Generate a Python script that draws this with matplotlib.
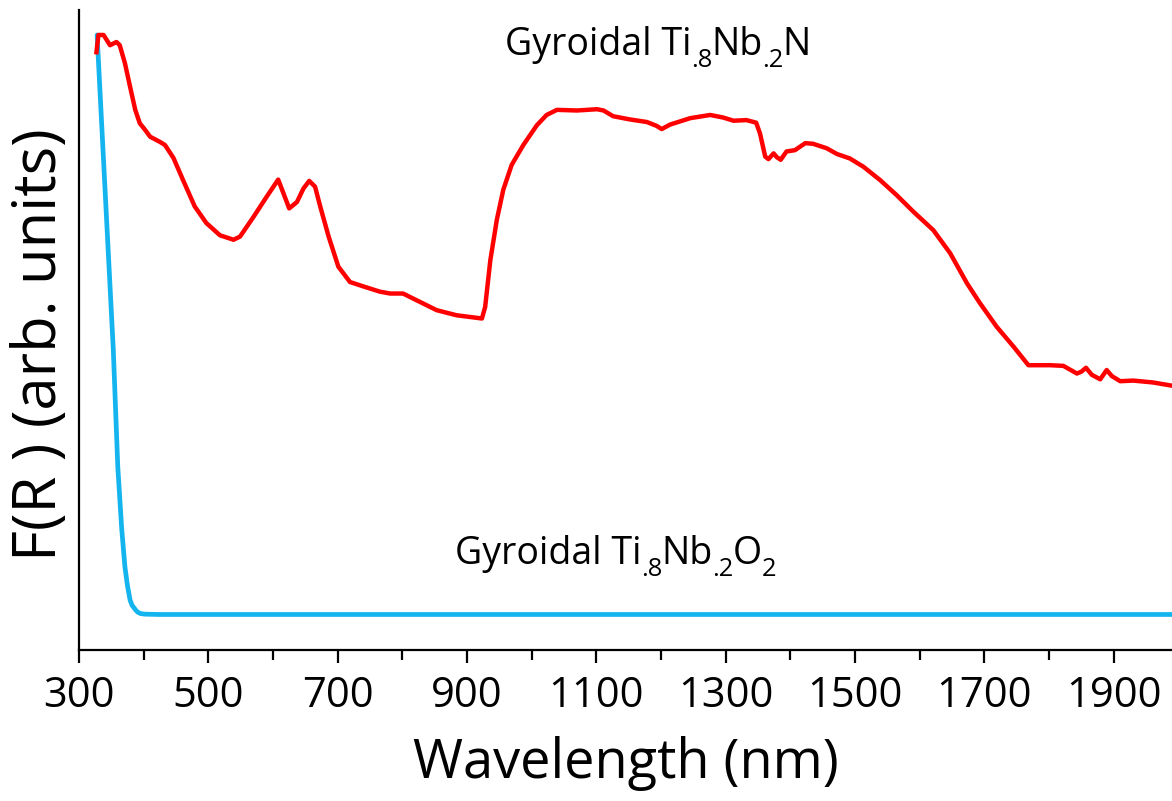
import numpy as np
import matplotlib
matplotlib.use("Agg")
import matplotlib.pyplot as plt
from matplotlib.ticker import FixedLocator, NullLocator
from matplotlib.transforms import offset_copy

matplotlib.rcParams.update({
    "font.family": ["Open Sans", "DejaVu Sans"],
})

# gyroidal Ti.8Nb.2N (red), wavelength in nm and F(R) in arb. units
nitride_wl = [327, 330, 338, 348, 358, 363, 371, 379, 387, 394, 402, 410, 425, 433,
              446, 461, 479, 497, 518, 539, 549, 570, 590, 608, 616, 625, 637, 647,
              656, 665, 673, 686, 701, 719, 740, 765, 781, 801, 827, 853, 884, 923,
              928, 936, 946, 956, 969, 987, 1008, 1023, 1039, 1070, 1101, 1111, 1126,
              1152, 1178, 1193, 1201, 1214, 1245, 1276, 1296, 1312, 1332, 1347, 1353,
              1361, 1366, 1374, 1379, 1385, 1394, 1407, 1423, 1435, 1456, 1472, 1492,
              1513, 1539, 1564, 1590, 1621, 1647, 1673, 1693, 1719, 1745, 1768, 1801,
              1822, 1843, 1850, 1857, 1866, 1879, 1889, 1897, 1910, 1930, 1961, 1990]
nitride_fr = [93.4, 96.1, 96.1, 94.5, 95.0, 94.5, 91.7, 88.0, 84.4, 82.3, 81.3, 80.2,
              79.4, 78.9, 76.9, 73.4, 69.3, 66.7, 64.8, 64.1, 64.6, 67.7, 70.8, 73.5,
              71.4, 69.0, 70.0, 72.1, 73.3, 72.4, 69.3, 64.6, 59.9, 57.5, 56.8, 56.0,
              55.7, 55.7, 54.4, 53.1, 52.3, 51.8, 53.6, 60.9, 67.2, 71.9, 75.8, 78.9,
              82.0, 83.6, 84.4, 84.3, 84.5, 84.3, 83.4, 82.9, 82.5, 81.9, 81.4, 82.1,
              83.1, 83.6, 83.2, 82.7, 82.8, 82.4, 80.7, 77.1, 76.7, 77.6, 77.0, 76.6,
              77.9, 78.1, 79.2, 79.1, 78.4, 77.5, 76.8, 75.5, 73.4, 71.1, 68.5, 65.6,
              62.0, 57.3, 54.2, 50.5, 47.4, 44.5, 44.5, 44.4, 43.2, 43.5, 44.1, 43.0,
              42.3, 43.75, 42.8, 42.0, 42.1, 41.8, 41.3]

# gyroidal Ti.8Nb.2O2 (blue)
oxide_wl = [328, 340, 353, 360, 366, 371, 375, 379, 382, 385, 388, 391, 395, 402, 425, 1990]
oxide_fr = [96.1, 72.5, 47.0, 28.6, 19.0, 13.0, 10.0, 7.8, 7.0, 6.6, 6.2, 5.9, 5.7, 5.6, 5.55, 5.55]

major_ticks = [300, 500, 700, 900, 1100, 1300, 1500, 1700, 1900]
minor_ticks = [400, 600, 800, 1000, 1200, 1400, 1600, 1800]

nitride_label = [("Gyroidal Ti", False), (".8", True), ("Nb", False), (".2", True), ("N", False)]
oxide_label = [("Gyroidal Ti", False), (".8", True), ("Nb", False), (".2", True),
               ("O", False), ("2", True)]

fig = plt.figure(figsize=(11.72, 8.01), dpi=100)
ax = fig.add_axes([0.0674, 0.1885, 0.9326, 0.799])

ax.plot(oxide_wl, oxide_fr, color="#14b4ee", lw=3.4, solid_capstyle="round", zorder=2)
ax.plot(nitride_wl, nitride_fr, color="#ff0000", lw=3.2, solid_joinstyle="round", zorder=3)

ax.set_xlim(300, 1990)
ax.set_ylim(0, 100)
ax.spines["top"].set_visible(False)
ax.spines["right"].set_visible(False)
for s in ("left", "bottom"):
    ax.spines[s].set_linewidth(1.6)

ax.xaxis.set_major_locator(FixedLocator(major_ticks))
ax.xaxis.set_minor_locator(FixedLocator(minor_ticks))
ax.yaxis.set_major_locator(NullLocator())
ax.tick_params(axis="x", which="major", direction="out", length=9, width=1.6,
               labelsize=30, pad=9)
ax.tick_params(axis="x", which="minor", direction="out", length=7, width=1.6)

ax.set_xlabel("Wavelength (nm)", fontsize=39, labelpad=14)
ax.set_ylabel("F(R ) (arb. units)", fontsize=43)
ax.yaxis.set_label_coords(-0.008, 0.477)

renderer = fig.canvas.get_renderer()


def chem_label(x, y, parts, size):
    # write text piece by piece so the ".8" style subscripts sit tight
    dx = 0.0
    for s, sub in parts:
        fs = size * 0.68 if sub else size
        dy = -size * 0.32 if sub else 0.0
        tr = offset_copy(ax.transData, fig=fig, x=dx, y=dy, units="points")
        t = ax.text(x, y, s, fontsize=fs, transform=tr, ha="left", va="baseline")
        dx += t.get_window_extent(renderer).width * 72 / fig.dpi - (1.0 if sub else 0.0)


chem_label(958, 93.0, nitride_label, 27)
chem_label(881, 13.5, oxide_label, 27)

fig.savefig("out.png", dpi=100)
plt.close(fig)
